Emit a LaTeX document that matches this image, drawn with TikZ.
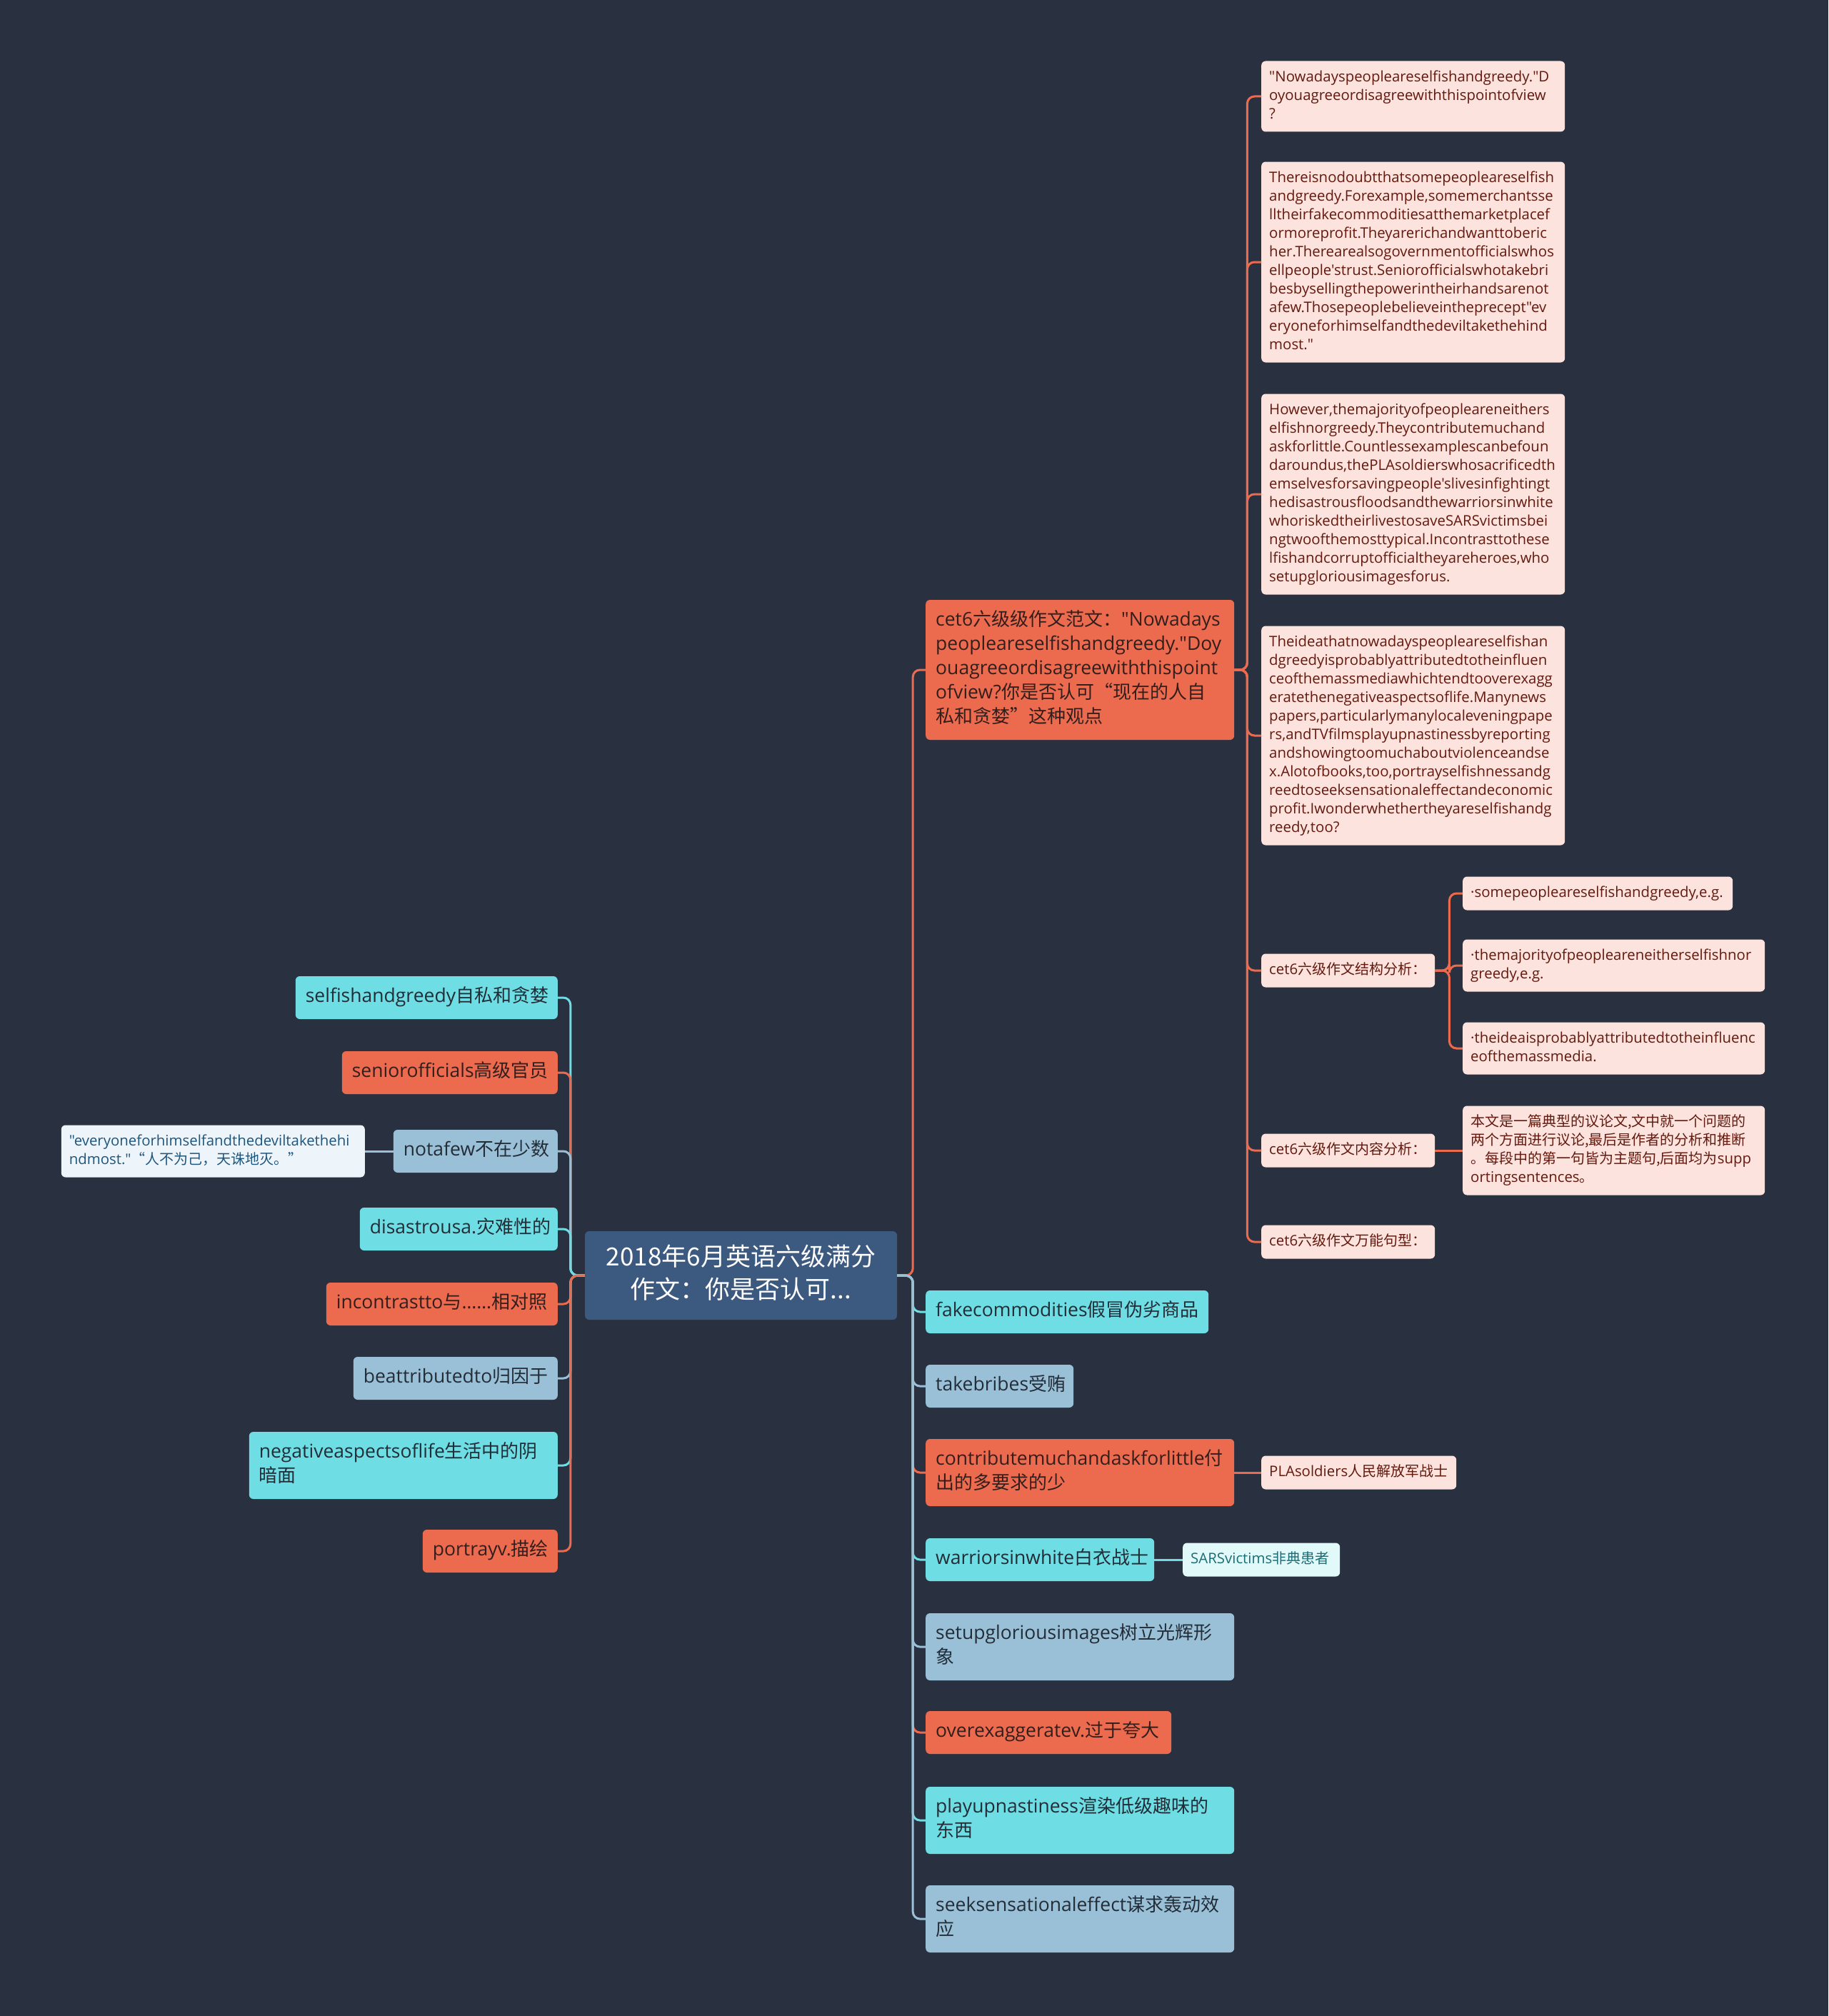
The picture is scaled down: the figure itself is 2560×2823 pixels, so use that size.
\documentclass[tikz,border=0pt]{standalone}
\usepackage{fontspec}
\setmainfont{Open Sans}[Scale=1.02, Ligatures=TeXOff]
\newfontfamily\zhfont{Noto Sans CJK SC}
\newcommand\zh[1]{{\zhfont#1}}
\usetikzlibrary{positioning}
\hyphenpenalty=10000

\definecolor{bgdark}{RGB}{41,48,64}
\definecolor{rootblue}{RGB}{60,89,128}
\definecolor{mmorange}{RGB}{236,107,79}
\definecolor{mmcyan}{RGB}{110,222,228}
\definecolor{mmblue}{RGB}{154,192,216}
\definecolor{mmpink}{RGB}{252,227,221}
\definecolor{orangetext}{RGB}{52,30,28}
\definecolor{darktext}{RGB}{35,45,55}
\definecolor{notetext}{RGB}{100,25,15}
\definecolor{sarsfill}{RGB}{226,249,250}
\definecolor{sarstext}{RGB}{25,110,120}
\definecolor{quotefill}{RGB}{238,245,250}
\definecolor{quotetext}{RGB}{30,85,125}

\tikzset{
  mmbox/.style={rounded corners=6pt, align=left, anchor=west,
    execute at begin node=\strut, execute at end node=\strut}, % every box of the map
  tw/.style={text width=#1pt}, % width of the text inside a box
  rootbox/.style={mmbox, anchor=center, align=center, fill=rootblue, text=white,
    font=\zhfont\fontsize{35}{46}\selectfont, inner xsep=16pt, inner ysep=16pt},
  topicbox/.style={mmbox, font=\fontsize{26}{34}\selectfont, inner xsep=14pt, inner ysep=13pt},
  orangebox/.style={topicbox, fill=mmorange, text=orangetext},
  cyanbox/.style={topicbox, fill=mmcyan, text=darktext},
  bluebox/.style={topicbox, fill=mmblue, text=darktext},
  notebox/.style={mmbox, font=\fontsize{20}{26}\selectfont, inner xsep=11pt, inner ysep=10.5pt,
    fill=mmpink, text=notetext},
  sarsbox/.style={notebox, fill=sarsfill, text=sarstext},
  quotebox/.style={notebox, fill=quotefill, text=quotetext},
  branch/.style={line width=3pt, rounded corners=10pt}, % the connectors
  rbranch/.style={branch, to path={-- ++(#1,0) |- (\tikztotarget)}},
  rbranch/.default=20,
  lbranch/.style={branch, to path={-- ++(-#1,0) |- (\tikztotarget)}},
  lbranch/.default=20,
}

\begin{document}
\begin{tikzpicture}[x=1pt, y=-1pt]
  \path[fill=bgdark, use as bounding box] (0,0) rectangle (2560,2823);

  % central topic
  \node[rootbox, tw=405] (c) at (1037.5,1786) {2018年6月英语六级满分\\作文：你是否认可...};

  % right side
  \node[orangebox, tw=404] (r1) at (1296,938) {cet6\zh{六级级作文范文：}"Nowadays\\peopleareselfishandgreedy."Doy\\ouagreeordisagreewiththispoint\\ofview?\zh{你是否认可“现在的人自}\\\zh{私和贪婪”这种观点}};
  \node[cyanbox, tw=368] (r2) at (1296,1837) {fakecommodities\zh{假冒伪劣商品}};
  \node[bluebox, tw=179] (r3) at (1296,1941) {takebribes\zh{受贿}};
  \node[orangebox, tw=404] (r4) at (1296,2062) {contributemuchandaskforlittle\zh{付}\\\zh{出的多要求的少}};
  \node[cyanbox, tw=292] (r5) at (1296,2184) {warriorsinwhite\zh{白衣战士}};
  \node[bluebox, tw=404] (r6) at (1296,2306) {setupgloriousimages\zh{树立光辉形}\\\zh{象}};
  \node[orangebox, tw=316] (r7) at (1296,2426) {overexaggeratev.\zh{过于夸大}};
  \node[cyanbox, tw=404] (r8) at (1296,2549) {playupnastiness\zh{渲染低级趣味的}\\\zh{东西}};
  \node[bluebox, tw=404] (r9) at (1296,2687) {seeksensationaleffect\zh{谋求轰动效}\\\zh{应}};

  % notes of the model essay
  \node[notebox, tw=403] (n1) at (1766,135) {"Nowadayspeopleareselfishandgreedy."D\\oyouagreeordisagreewiththispointofview\\?};
  \node[notebox, tw=403] (n2) at (1766,367) {Thereisnodoubtthatsomepeopleareselfish\\andgreedy.Forexample,somemerchantsse\\lltheirfakecommoditiesatthemarketplacef\\ormoreprofit.Theyarerichandwanttoberic\\her.Therearealsogovernmentofficialswhos\\ellpeople'strust.Seniorofficialswhotakebri\\besbysellingthepowerintheirhandsarenot\\afew.Thosepeoplebelieveintheprecept"ev\\eryoneforhimselfandthedeviltakethehind\\most."};
  \node[notebox, tw=403] (n3) at (1766,692) {However,themajorityofpeopleareneithers\\elfishnorgreedy.Theycontributemuchand\\askforlittle.Countlessexamplescanbefoun\\daroundus,thePLAsoldierswhosacrificedth\\emselvesforsavingpeople'slivesinfightingt\\hedisastrousfloodsandthewarriorsinwhite\\whoriskedtheirlivestosaveSARSvictimsbei\\ngtwoofthemosttypical.Incontrasttothese\\lfishandcorruptofficialtheyareheroes,who\\setupgloriousimagesforus.};
  \node[notebox, tw=403] (n4) at (1766,1030) {Theideathatnowadayspeopleareselfishan\\dgreedyisprobablyattributedtotheinfluen\\ceofthemassmediawhichtendtooverexagg\\eratethenegativeaspectsoflife.Manynews\\papers,particularlymanylocaleveningpape\\rs,andTVfilmsplayupnastinessbyreporting\\andshowingtoomuchaboutviolenceandse\\x.Alotofbooks,too,portrayselfishnessandg\\reedtoseeksensationaleffectandeconomic\\profit.Iwonderwhethertheyareselfishandg\\reedy,too?};
  \node[notebox, tw=221] (n5) at (1766,1359) {cet6\zh{六级作文结构分析：}};
  \node[notebox, tw=221] (n6) at (1766,1611) {cet6\zh{六级作文内容分析：}};
  \node[notebox, tw=221] (n7) at (1766,1739) {cet6\zh{六级作文万能句型：}};

  \node[notebox, tw=356] (n51) at (2048,1251) {·somepeopleareselfishandgreedy,e.g.};
  \node[notebox, tw=401] (n52) at (2048,1352) {·themajorityofpeopleareneitherselfishnor\\greedy,e.g.};
  \node[notebox, tw=401] (n53) at (2048,1468) {·theideaisprobablyattributedtotheinfluenc\\eofthemassmedia.};
  \node[notebox, tw=401] (n61) at (2048,1611) {\zh{本文是一篇典型的议论文,文中就一个问题的}\\\zh{两个方面进行议论,最后是作者的分析和推断}\\\zh{。每段中的第一句皆为主题句,后面均为}supp\\ortingsentences\zh{。}};

  \node[notebox, tw=251] (pla) at (1766,2062) {PLAsoldiers\zh{人民解放军战士}};
  \node[sarsbox, tw=198] (sars) at (1656,2184) {SARSvictims\zh{非典患者}};

  % left side
  \node[cyanbox, anchor=east, tw=339] (l1) at (781,1397) {selfishandgreedy\zh{自私和贪婪}};
  \node[orangebox, anchor=east, tw=274] (l2) at (781,1502) {seniorofficials\zh{高级官员}};
  \node[bluebox, anchor=east, tw=202] (l3) at (781,1612) {notafew\zh{不在少数}};
  \node[cyanbox, anchor=east, tw=249] (l4) at (781,1721) {disastrousa.\zh{灾难性的}};
  \node[orangebox, anchor=east, tw=296] (l5) at (781,1826) {incontrastto\zh{与}……\zh{相对照}};
  \node[bluebox, anchor=east, tw=258] (l6) at (781,1930) {beattributedto\zh{归因于}};
  \node[cyanbox, anchor=east, tw=404] (l7) at (781,2052) {negativeaspectsoflife\zh{生活中的阴}\\\zh{暗面}};
  \node[orangebox, anchor=east, tw=161] (l8) at (781,2172) {portrayv.\zh{描绘}};
  \node[quotebox, anchor=east, tw=403] (q) at (511,1612) {"everyoneforhimselfandthedeviltakethehi\\ndmost."\zh{“人不为己，天诛地灭。”}};

  % connectors
  \draw (c.east) edge[rbranch=22, mmorange] (r1.west)
                 edge[rbranch=22, mmcyan] (r2.west)
                 edge[rbranch=22, mmblue] (r3.west)
                 edge[rbranch=22, mmorange] (r4.west)
                 edge[rbranch=22, mmcyan] (r5.west)
                 edge[rbranch=22, mmblue] (r6.west)
                 edge[rbranch=22, mmorange] (r7.west)
                 edge[rbranch=22, mmcyan] (r8.west)
                 edge[rbranch=22, mmblue] (r9.west);

  \draw (c.west) edge[lbranch, mmcyan] (l1.east)
                 edge[lbranch, mmorange] (l2.east)
                 edge[lbranch, mmblue] (l3.east)
                 edge[lbranch, mmcyan] (l4.east)
                 edge[lbranch, mmorange] (l5.east)
                 edge[lbranch, mmblue] (l6.east)
                 edge[lbranch, mmcyan] (l7.east)
                 edge[lbranch, mmorange] (l8.east);

  \draw[mmorange] (r1.east) edge[rbranch=18] (n1.west)
                  edge[rbranch=18] (n2.west)
                  edge[rbranch=18] (n3.west)
                  edge[rbranch=18] (n4.west)
                  edge[rbranch=18] (n5.west)
                  edge[rbranch=18] (n6.west)
                  edge[rbranch=18] (n7.west);

  \draw[mmorange] (n5.east) edge[rbranch] (n51.west)
                  edge[rbranch] (n52.west)
                  edge[rbranch] (n53.west);

  \draw[branch, mmorange] (n6.east) -- (n61.west);
  \draw[branch, mmorange] (r4.east) -- (pla.west);
  \draw[branch, mmcyan] (r5.east) -- (sars.west);
  \draw[branch, mmblue] (l3.west) -- (q.east);
\end{tikzpicture}
\end{document}
